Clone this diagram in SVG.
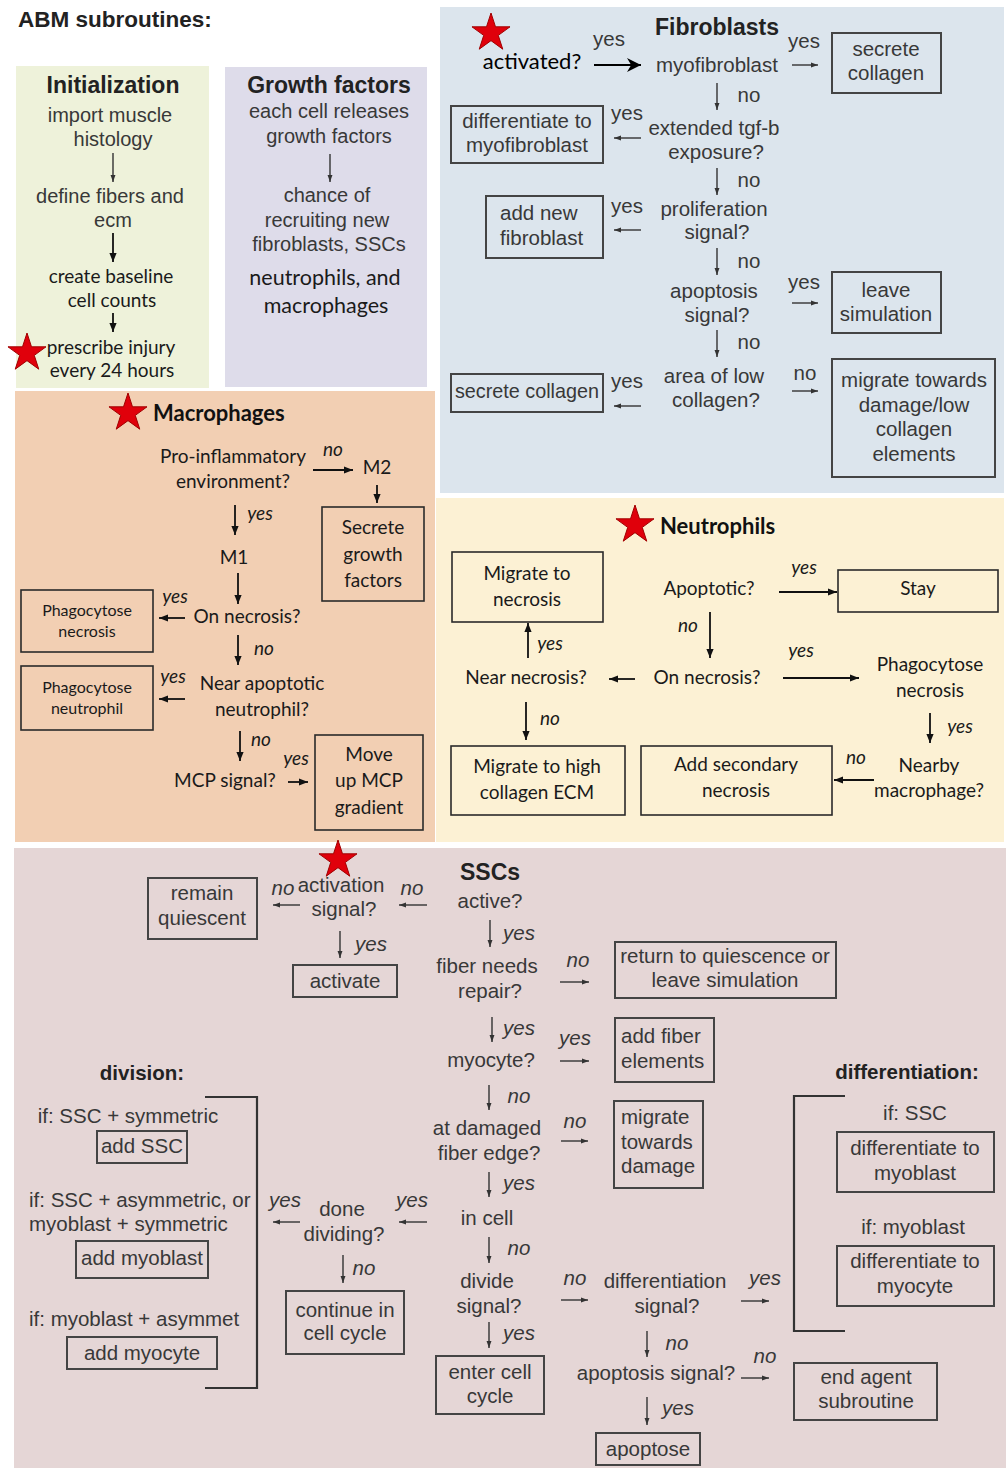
<svg xmlns="http://www.w3.org/2000/svg" width="1006" height="1468" viewBox="0 0 1006 1468">
<style>
text{font-family:"Liberation Sans",Arial,sans-serif}
.t{font-size:20.5px;fill:#383838;text-anchor:middle}
.s{text-anchor:start}
.i{font-style:italic}
.h{font-weight:bold;fill:#222}
.c{font-family:Lato,"Open Sans",sans-serif;font-size:19px;fill:#1a1a1a;text-anchor:middle}
.box{fill:none;stroke:#444;stroke-width:2}
.cbox{fill:none;stroke:#2a2a2a;stroke-width:1.6}
.ln{stroke:#333;stroke-width:1.4;fill:none;marker-end:url(#ah)}
.lk{stroke:#111;stroke-width:1.8;fill:none;marker-end:url(#ahk)}
.br{stroke:#333;stroke-width:2.2;fill:none}
.star{fill:#e0000b;stroke:#a00000;stroke-width:1}
</style>
<defs>
<marker id="ah" viewBox="0 0 10 10" refX="10" refY="5" markerWidth="7" markerHeight="7" markerUnits="userSpaceOnUse" orient="auto"><path d="M0,1.5 L10,5 L0,8.5 z" fill="#333"/></marker>
<marker id="ahk" viewBox="0 0 10 10" refX="10" refY="5" markerWidth="9" markerHeight="9" markerUnits="userSpaceOnUse" orient="auto"><path d="M0,1 L10,5 L0,9 z" fill="#111"/></marker>
<marker id="ahb" viewBox="0 0 10 10" refX="10" refY="5" markerWidth="14" markerHeight="14" markerUnits="userSpaceOnUse" orient="auto"><path d="M0,0 L10,5 L0,10 L3,5 z" fill="#000"/></marker>
<path id="star" d="M0,-20 L4.49,-6.18 L19.02,-6.18 L7.27,2.36 L11.76,16.18 L0,7.64 L-11.76,16.18 L-7.27,2.36 L-19.02,-6.18 L-4.49,-6.18 Z"/>
</defs>

<g id="panels">
<rect x="16" y="66" width="193" height="322" fill="#eef2da"/>
<rect x="225" y="67" width="202" height="320" fill="#dedcea"/>
<rect x="440" y="7" width="564" height="486" fill="#dce5ed"/>
<rect x="15" y="391" width="420" height="451" fill="#f2cfb3"/>
<rect x="436" y="498" width="568" height="344" fill="#fcf1d4"/>
<rect x="14" y="848" width="992" height="620" fill="#e5d6d6"/>
</g>

<text x="18" y="27" class="h" style="font-size:22.5px">ABM subroutines:</text>

<g id="initialization">
<text x="113" y="93" class="t h" style="font-size:23px">Initialization</text>
<text x="110" y="122" class="t" style="font-size:20px">import muscle</text>
<text x="113" y="146" class="t" style="font-size:20px">histology</text>
<text x="110" y="203" class="t" style="font-size:20px">define fibers and</text>
<text x="113" y="227" class="t" style="font-size:20px">ecm</text>
<text x="111" y="283" class="c">create baseline</text>
<text x="112" y="307" class="c">cell counts</text>
<text x="111" y="354" class="c">prescribe injury</text>
<text x="112" y="377" class="c">every 24 hours</text>
</g>

<g id="growth-factors">
<text x="329" y="93" class="t h" style="font-size:23px">Growth factors</text>
<text x="329" y="118" class="t" style="font-size:20px">each cell releases</text>
<text x="329" y="143" class="t" style="font-size:20px">growth factors</text>
<text x="327" y="202" class="t" style="font-size:20px">chance of</text>
<text x="327" y="227" class="t" style="font-size:20px">recruiting new</text>
<text x="329" y="251" class="t" style="font-size:20px">fibroblasts, SSCs</text>
<text x="325" y="285" class="c" style="font-size:21.5px">neutrophils, and</text>
<text x="326" y="313" class="c" style="font-size:21.5px">macrophages</text>
</g>

<g id="fibroblasts">
<text x="717" y="35" class="t h" style="font-size:23px">Fibroblasts</text>
<g id="fb-activated"><text x="532" y="69" class="c" style="font-size:22px;fill:#000">activated?</text></g>
<g id="fb-myofibroblast"><text x="717" y="72" class="t">myofibroblast</text></g>
<g id="fb-secrete1"><rect x="832" y="33" width="109" height="60" class="box"/><text x="886" y="56" class="t">secrete</text><text x="886" y="80" class="t">collagen</text></g>
<g id="fb-tgf"><text x="714" y="135" class="t">extended tgf-b</text><text x="716" y="159" class="t">exposure?</text></g>
<g id="fb-diff"><rect x="451" y="106" width="152" height="57" class="box"/><text x="527" y="128" class="t">differentiate to</text><text x="527" y="152" class="t">myofibroblast</text></g>
<g id="fb-prolif"><text x="714" y="216" class="t">proliferation</text><text x="717" y="239" class="t">signal?</text></g>
<g id="fb-addnew"><rect x="486" y="196" width="117" height="62" class="box"/><text x="500" y="220" class="t s">add new</text><text x="500" y="245" class="t s">fibroblast</text></g>
<g id="fb-apop"><text x="714" y="298" class="t">apoptosis</text><text x="717" y="322" class="t">signal?</text></g>
<g id="fb-leave"><rect x="832" y="272" width="109" height="61" class="box"/><text x="886" y="297" class="t">leave</text><text x="886" y="321" class="t">simulation</text></g>
<g id="fb-lowcol"><text x="714" y="383" class="t">area of low</text><text x="716" y="407" class="t">collagen?</text></g>
<g id="fb-secrete2"><rect x="451" y="374" width="152" height="38" class="box"/><text x="527" y="398" class="t" style="font-size:19.8px">secrete collagen</text></g>
<g id="fb-migrate"><rect x="832" y="359" width="163" height="118" class="box"/><text x="914" y="387" class="t">migrate towards</text><text x="914" y="412" class="t">damage/low</text><text x="914" y="436" class="t">collagen</text><text x="914" y="461" class="t">elements</text></g>
</g>

<g id="macrophages">
<text x="153" y="421" class="c h" style="font-size:22px;text-anchor:start;fill:#111">Macrophages</text>
<g id="mac-proinf"><text x="233" y="463" class="c">Pro-inflammatory</text><text x="233" y="488" class="c">environment?</text></g>
<g id="mac-m2"><text x="377" y="474" class="c">M2</text></g>
<g id="mac-secrete"><rect x="322" y="507" width="102" height="94" class="cbox"/><text x="373" y="534" class="c">Secrete</text><text x="373" y="561" class="c">growth</text><text x="373" y="587" class="c">factors</text></g>
<g id="mac-m1"><text x="234" y="564" class="c">M1</text></g>
<g id="mac-onnec"><text x="247" y="623" class="c">On necrosis?</text></g>
<g id="mac-phnec"><rect x="21" y="590" width="132" height="62" class="cbox"/><text x="87" y="616" class="c" style="font-size:16px">Phagocytose</text><text x="87" y="637" class="c" style="font-size:16px">necrosis</text></g>
<g id="mac-near"><text x="262" y="690" class="c">Near apoptotic</text><text x="262" y="716" class="c">neutrophil?</text></g>
<g id="mac-phneu"><rect x="21" y="666" width="132" height="64" class="cbox"/><text x="87" y="693" class="c" style="font-size:16px">Phagocytose</text><text x="87" y="714" class="c" style="font-size:16px">neutrophil</text></g>
<g id="mac-mcp"><text x="225" y="787" class="c">MCP signal?</text></g>
<g id="mac-move"><rect x="315" y="735" width="108" height="95" class="cbox"/><text x="369" y="761" class="c">Move</text><text x="369" y="787" class="c">up MCP</text><text x="369" y="814" class="c">gradient</text></g>
</g>

<g id="neutrophils">
<text x="660" y="534" class="c h" style="font-size:22px;text-anchor:start;fill:#111">Neutrophils</text>
<g id="neu-migrnec"><rect x="452" y="552" width="151" height="70" class="cbox"/><text x="527" y="580" class="c">Migrate to</text><text x="527" y="606" class="c">necrosis</text></g>
<g id="neu-apop"><text x="709" y="595" class="c">Apoptotic?</text></g>
<g id="neu-stay"><rect x="838" y="570" width="160" height="42" class="cbox"/><text x="918" y="595" class="c">Stay</text></g>
<g id="neu-onnec"><text x="707" y="684" class="c">On necrosis?</text></g>
<g id="neu-phago"><text x="930" y="671" class="c">Phagocytose</text><text x="930" y="697" class="c">necrosis</text></g>
<g id="neu-nearby"><text x="929" y="772" class="c">Nearby</text><text x="929" y="797" class="c">macrophage?</text></g>
<g id="neu-addsec"><rect x="641" y="746" width="191" height="69" class="cbox"/><text x="736" y="771" class="c">Add secondary</text><text x="736" y="797" class="c">necrosis</text></g>
<g id="neu-nearnec"><text x="526" y="684" class="c">Near necrosis?</text></g>
<g id="neu-highcol"><rect x="451" y="746" width="174" height="69" class="cbox"/><text x="537" y="773" class="c">Migrate to high</text><text x="537" y="799" class="c">collagen ECM</text></g>
</g>

<g id="sscs">
<text x="490" y="880" class="t h" style="font-size:23px">SSCs</text>
<g id="ssc-active"><text x="490" y="908" class="t">active?</text></g>
<g id="ssc-fiber"><text x="487" y="973" class="t">fiber needs</text><text x="490" y="998" class="t">repair?</text></g>
<g id="ssc-return"><rect x="615" y="942" width="221" height="56" class="box"/><text x="725" y="963" class="t">return to quiescence or</text><text x="725" y="987" class="t">leave simulation</text></g>
<g id="ssc-myocyte"><text x="491" y="1067" class="t">myocyte?</text></g>
<g id="ssc-addfiber"><rect x="615" y="1018" width="99" height="64" class="box"/><text x="621" y="1043" class="t s">add fiber</text><text x="621" y="1068" class="t s">elements</text></g>
<g id="ssc-edge"><text x="487" y="1135" class="t">at damaged</text><text x="489" y="1160" class="t">fiber edge?</text></g>
<g id="ssc-migrate"><rect x="614" y="1101" width="89" height="87" class="box"/><text x="621" y="1124" class="t s">migrate</text><text x="621" y="1149" class="t s">towards</text><text x="621" y="1173" class="t s">damage</text></g>
<g id="ssc-incell"><text x="487" y="1225" class="t">in cell</text></g>
<g id="ssc-divide"><text x="487" y="1288" class="t">divide</text><text x="489" y="1313" class="t">signal?</text></g>
<g id="ssc-enter"><rect x="436" y="1356" width="108" height="58" class="box"/><text x="490" y="1379" class="t">enter cell</text><text x="490" y="1403" class="t">cycle</text></g>
<g id="ssc-diffsig"><text x="665" y="1288" class="t">differentiation</text><text x="667" y="1313" class="t">signal?</text></g>
<g id="ssc-apopsig"><text x="656" y="1380" class="t">apoptosis signal?</text></g>
<g id="ssc-end"><rect x="794" y="1363" width="143" height="57" class="box"/><text x="866" y="1384" class="t">end agent</text><text x="866" y="1408" class="t">subroutine</text></g>
<g id="ssc-apoptose"><rect x="596" y="1433" width="104" height="32" class="box"/><text x="648" y="1456" class="t">apoptose</text></g>
<g id="ssc-differentiation">
<text x="907" y="1079" class="t h" style="font-size:20.5px">differentiation:</text>
<path d="M845,1096 H794 V1331 H845" class="br"/>
<text x="915" y="1120" class="t">if: SSC</text>
<rect x="837" y="1132" width="157" height="60" class="box"/><text x="915" y="1155" class="t">differentiate to</text><text x="915" y="1180" class="t">myoblast</text>
<text x="913" y="1234" class="t">if: myoblast</text>
<rect x="837" y="1246" width="157" height="60" class="box"/><text x="915" y="1268" class="t">differentiate to</text><text x="915" y="1293" class="t">myocyte</text>
</g>
<g id="ssc-division">
<text x="142" y="1080" class="t h" style="font-size:20.5px">division:</text>
<path d="M205,1097 H257 V1388 H205" class="br"/>
<text x="128" y="1123" class="t">if: SSC + symmetric</text>
<rect x="97" y="1131" width="90" height="32" class="box"/><text x="142" y="1153" class="t">add SSC</text>
<text x="29" y="1207" class="t s">if: SSC + asymmetric, or</text>
<text x="29" y="1231" class="t s">myoblast + symmetric</text>
<rect x="76" y="1241" width="132" height="37" class="box"/><text x="142" y="1265" class="t">add myoblast</text>
<text x="29" y="1326" class="t s">if: myoblast + asymmet</text>
<rect x="67" y="1337" width="150" height="32" class="box"/><text x="142" y="1360" class="t">add myocyte</text>
</g>
<g id="ssc-done"><text x="342" y="1216" class="t">done</text><text x="344" y="1241" class="t">dividing?</text></g>
<g id="ssc-continue"><rect x="286" y="1291" width="118" height="63" class="box"/><text x="345" y="1317" class="t">continue in</text><text x="345" y="1340" class="t">cell cycle</text></g>
<g id="ssc-remain"><rect x="148" y="878" width="109" height="61" class="box"/><text x="202" y="900" class="t">remain</text><text x="202" y="925" class="t">quiescent</text></g>
<g id="ssc-actsig"><text x="341" y="892" class="t">activation</text><text x="344" y="916" class="t">signal?</text></g>
<g id="ssc-activate"><rect x="293" y="965" width="104" height="32" class="box"/><text x="345" y="988" class="t">activate</text></g>
</g>

<g id="connectors">
<!-- initialization / growth -->
<line x1="113" y1="153" x2="113" y2="182" class="ln"/>
<line x1="113" y1="233" x2="113" y2="262" class="lk"/>
<line x1="113" y1="313" x2="113" y2="332" class="lk"/>
<line x1="330" y1="154" x2="330" y2="182" class="ln"/>
<!-- fibroblasts -->
<line x1="594" y1="65" x2="641" y2="65" style="stroke:#000;stroke-width:1.8;marker-end:url(#ahb)"/>
<line x1="792" y1="65" x2="818" y2="65" class="ln"/>
<line x1="717" y1="83" x2="717" y2="110" class="ln"/>
<line x1="641" y1="138" x2="614" y2="138" class="ln"/>
<line x1="717" y1="168" x2="717" y2="195" class="ln"/>
<line x1="641" y1="230" x2="614" y2="230" class="ln"/>
<line x1="717" y1="248" x2="717" y2="275" class="ln"/>
<line x1="792" y1="303" x2="818" y2="303" class="ln"/>
<line x1="717" y1="330" x2="717" y2="357" class="ln"/>
<line x1="641" y1="406" x2="614" y2="406" class="ln"/>
<line x1="792" y1="391" x2="818" y2="391" class="ln"/>
<!-- macrophages -->
<line x1="313" y1="470" x2="353" y2="470" class="lk"/>
<line x1="377" y1="485" x2="377" y2="503" class="lk"/>
<line x1="235" y1="505" x2="235" y2="535" class="lk"/>
<line x1="238" y1="573" x2="238" y2="604" class="lk"/>
<line x1="185" y1="618" x2="159" y2="618" class="lk"/>
<line x1="238" y1="635" x2="238" y2="665" class="lk"/>
<line x1="185" y1="699" x2="159" y2="699" class="lk"/>
<line x1="240" y1="731" x2="240" y2="761" class="lk"/>
<line x1="288" y1="782" x2="308" y2="782" class="lk"/>
<!-- neutrophils -->
<line x1="779" y1="592" x2="837" y2="592" class="lk"/>
<line x1="710" y1="612" x2="710" y2="658" class="lk"/>
<line x1="783" y1="678" x2="859" y2="678" class="lk"/>
<line x1="930" y1="713" x2="930" y2="743" class="lk"/>
<line x1="874" y1="780" x2="834" y2="780" class="lk"/>
<line x1="635" y1="679" x2="609" y2="679" class="lk"/>
<line x1="528" y1="658" x2="528" y2="623" class="lk"/>
<line x1="526" y1="702" x2="526" y2="740" class="lk"/>
<!-- SSCs -->
<line x1="490" y1="920" x2="490" y2="947" class="ln"/>
<line x1="560" y1="982" x2="589" y2="982" class="ln"/>
<line x1="492" y1="1017" x2="492" y2="1042" class="ln"/>
<line x1="560" y1="1061" x2="589" y2="1061" class="ln"/>
<line x1="489" y1="1085" x2="489" y2="1110" class="ln"/>
<line x1="561" y1="1141" x2="588" y2="1141" class="ln"/>
<line x1="489" y1="1172" x2="489" y2="1197" class="ln"/>
<line x1="489" y1="1237" x2="489" y2="1263" class="ln"/>
<line x1="561" y1="1300" x2="588" y2="1300" class="ln"/>
<line x1="489" y1="1322" x2="489" y2="1348" class="ln"/>
<line x1="741" y1="1301" x2="769" y2="1301" class="ln"/>
<line x1="647" y1="1331" x2="647" y2="1357" class="ln"/>
<line x1="741" y1="1378" x2="769" y2="1378" class="ln"/>
<line x1="647" y1="1397" x2="647" y2="1425" class="ln"/>
<line x1="300" y1="1222" x2="273" y2="1222" class="ln"/>
<line x1="427" y1="1222" x2="399" y2="1222" class="ln"/>
<line x1="343" y1="1255" x2="343" y2="1283" class="ln"/>
<line x1="300" y1="905" x2="273" y2="905" class="ln"/>
<line x1="427" y1="905" x2="399" y2="905" class="ln"/>
<line x1="340" y1="931" x2="340" y2="958" class="ln"/>
</g>

<g id="labels">
<text x="609" y="46" class="t">yes</text>
<text x="804" y="48" class="t">yes</text>
<text x="749" y="102" class="t">no</text>
<text x="627" y="120" class="t">yes</text>
<text x="749" y="187" class="t">no</text>
<text x="627" y="213" class="t">yes</text>
<text x="749" y="268" class="t">no</text>
<text x="804" y="289" class="t">yes</text>
<text x="749" y="349" class="t">no</text>
<text x="627" y="388" class="t">yes</text>
<text x="805" y="380" class="t">no</text>

<text x="333" y="456" class="c i">no</text>
<text x="260" y="520" class="c i">yes</text>
<text x="175" y="603" class="c i">yes</text>
<text x="264" y="655" class="c i">no</text>
<text x="173" y="683" class="c i">yes</text>
<text x="261" y="746" class="c i">no</text>
<text x="296" y="765" class="c i">yes</text>

<text x="804" y="574" class="c i">yes</text>
<text x="688" y="632" class="c i">no</text>
<text x="801" y="657" class="c i">yes</text>
<text x="960" y="733" class="c i">yes</text>
<text x="856" y="764" class="c i">no</text>
<text x="550" y="650" class="c i">yes</text>
<text x="550" y="725" class="c i">no</text>

<text x="519" y="940" class="t i">yes</text>
<text x="578" y="967" class="t i">no</text>
<text x="519" y="1035" class="t i">yes</text>
<text x="575" y="1045" class="t i">yes</text>
<text x="519" y="1103" class="t i">no</text>
<text x="575" y="1128" class="t i">no</text>
<text x="519" y="1190" class="t i">yes</text>
<text x="519" y="1255" class="t i">no</text>
<text x="575" y="1285" class="t i">no</text>
<text x="519" y="1340" class="t i">yes</text>
<text x="765" y="1285" class="t i">yes</text>
<text x="677" y="1350" class="t i">no</text>
<text x="765" y="1363" class="t i">no</text>
<text x="678" y="1415" class="t i">yes</text>
<text x="285" y="1207" class="t i">yes</text>
<text x="412" y="1207" class="t i">yes</text>
<text x="364" y="1275" class="t i">no</text>
<text x="283" y="895" class="t i">no</text>
<text x="412" y="895" class="t i">no</text>
<text x="371" y="951" class="t i">yes</text>
</g>

<g id="stars">
<use href="#star" class="star" transform="translate(27,353)"/>
<use href="#star" class="star" transform="translate(491,33)"/>
<use href="#star" class="star" transform="translate(128,413)"/>
<use href="#star" class="star" transform="translate(635,525)"/>
<use href="#star" class="star" transform="translate(338,860)"/>
</g>
</svg>
